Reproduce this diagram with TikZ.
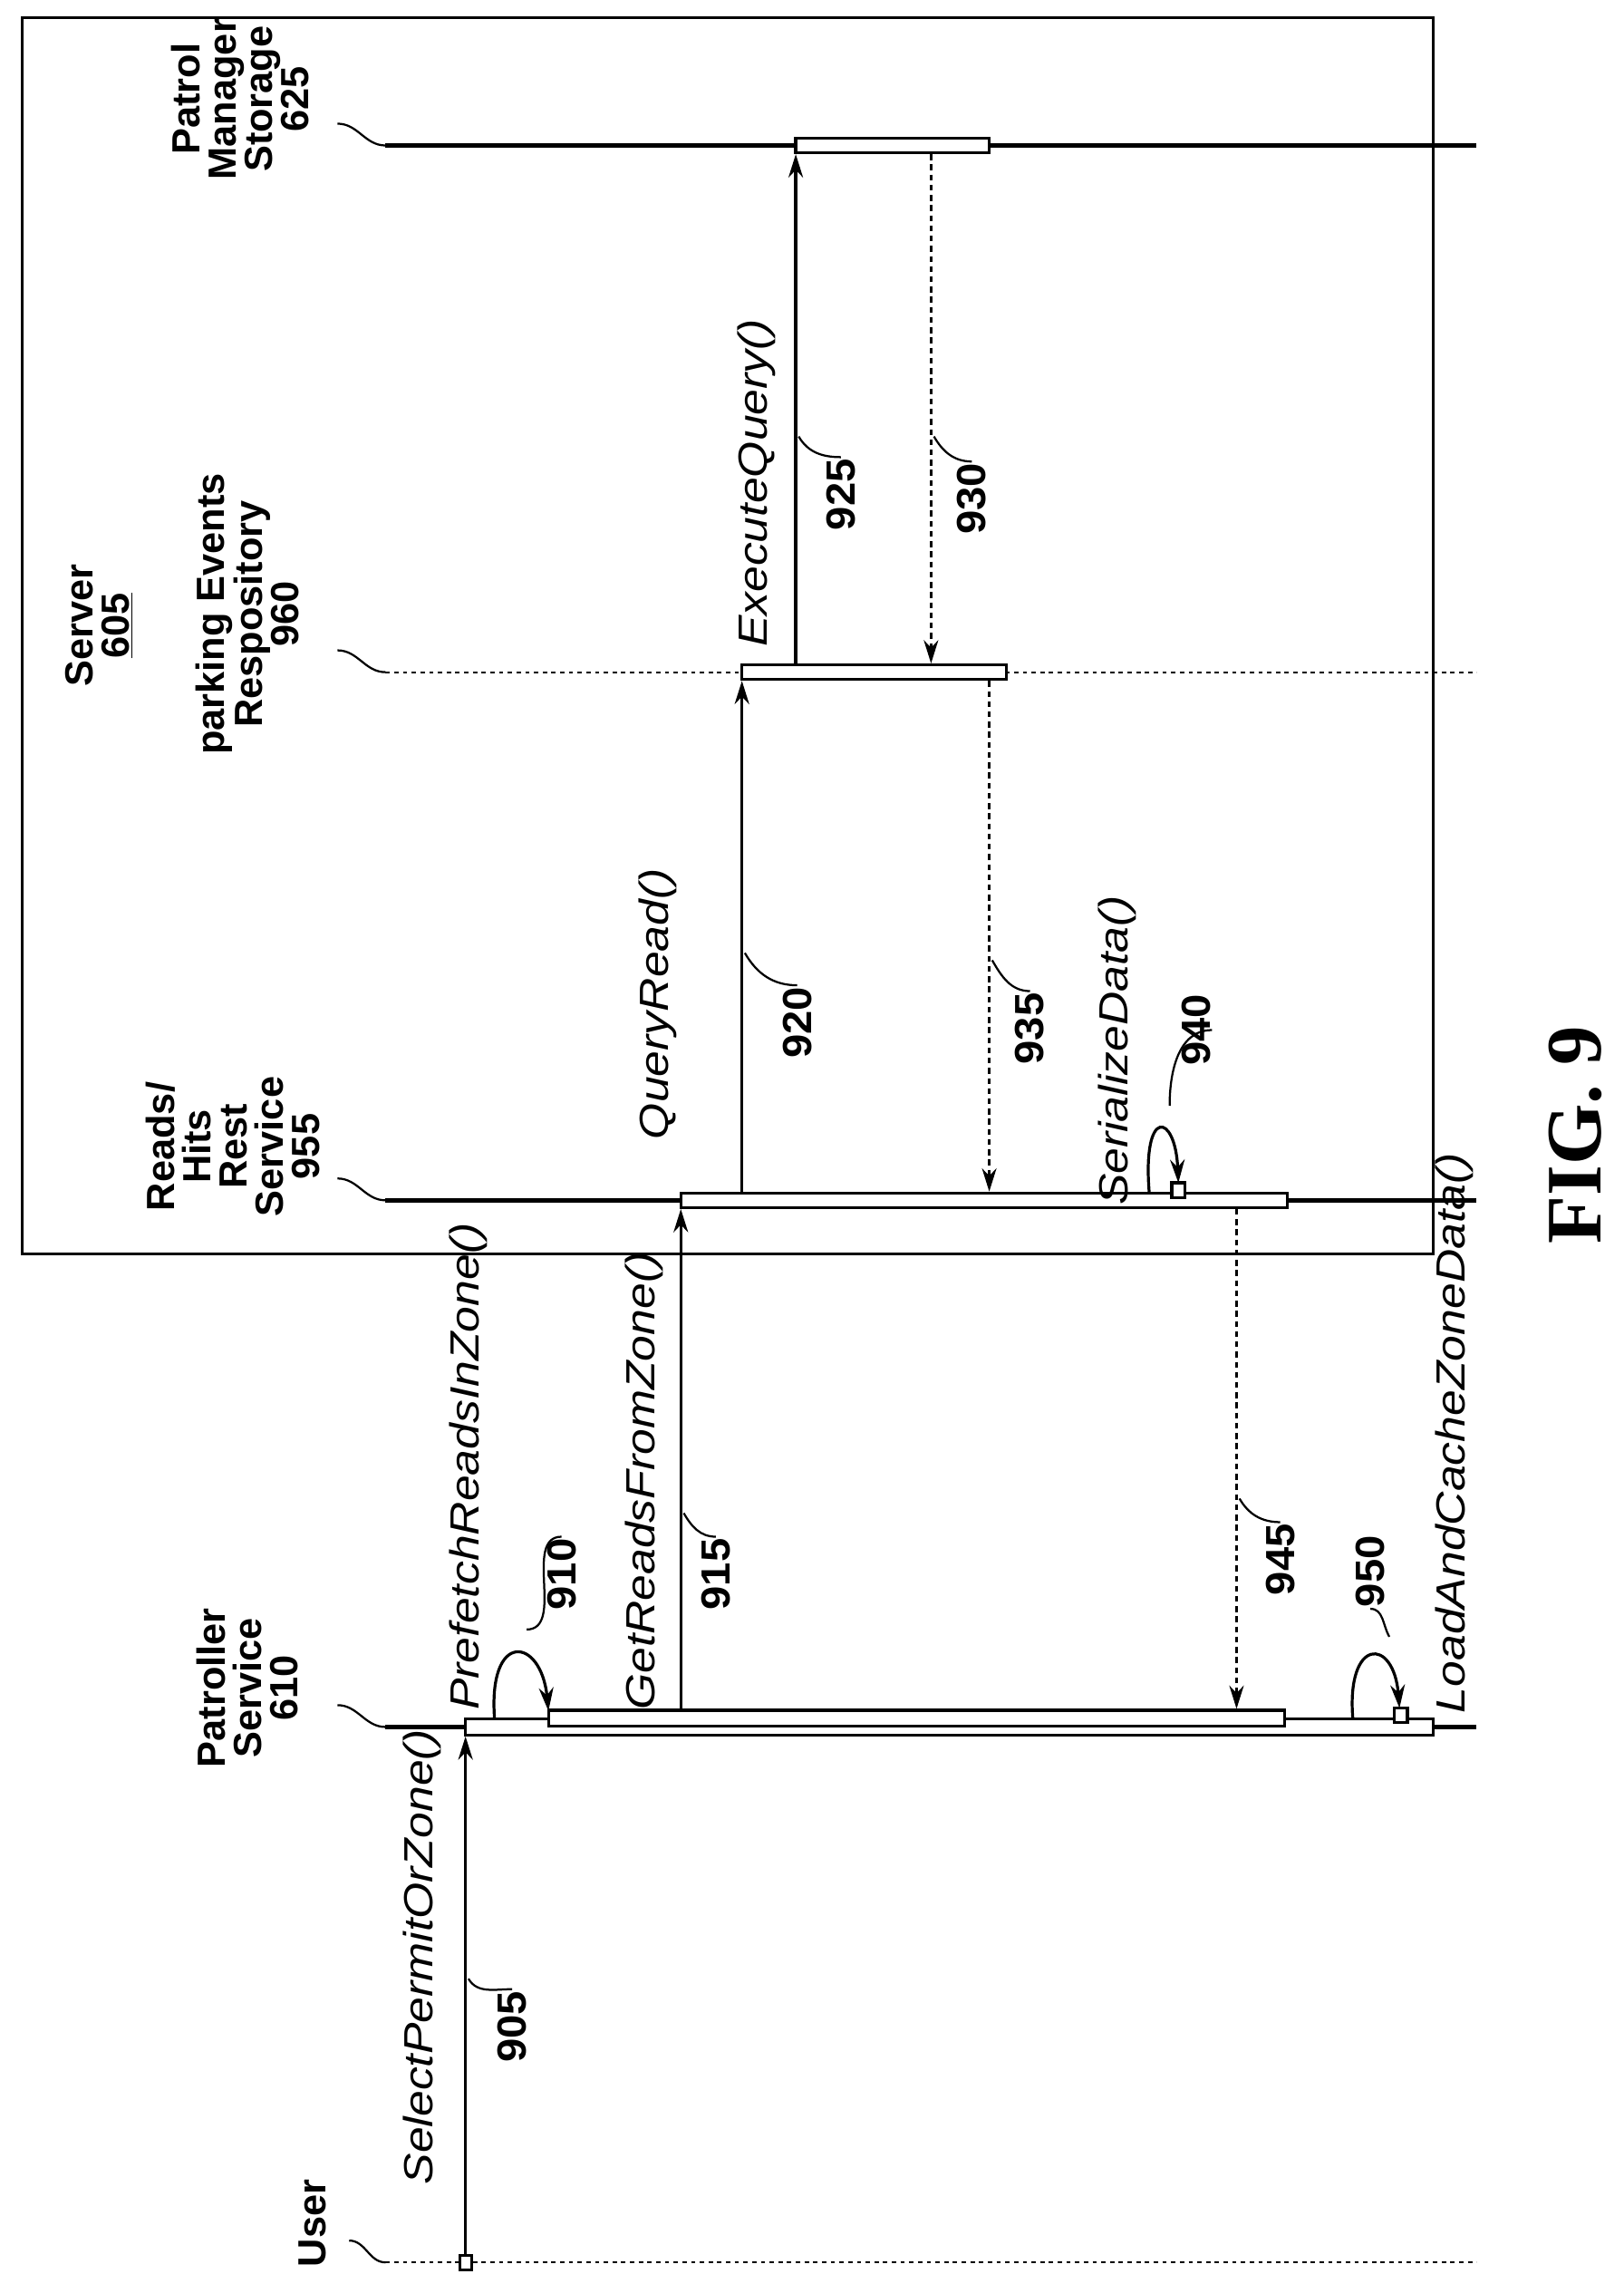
\documentclass[tikz,border=0pt]{standalone}
\usepackage{fontspec}
\setmainfont{Liberation Sans}
\newfontfamily\figfont{Liberation Serif}
\usetikzlibrary{arrows.meta,positioning}
\tikzstyle{lbl}=[rotate=90, align=center, font=\fontsize{27}{25}\selectfont\bfseries, inner sep=0pt]
\tikzstyle{num}=[rotate=90, xscale=1.05, font=\fontsize{28}{28}\selectfont\bfseries, inner sep=1pt]
\tikzstyle{call}=[rotate=90, xscale=1.15, font=\fontsize{28}{28}\selectfont\itshape, inner sep=1pt]
\tikzstyle{bar}=[rectangle, draw, line width=2pt, fill=white, inner sep=0pt, minimum height=10pt]
\tikzstyle{life}=[line width=3pt]
\tikzstyle{msg}=[line width=2pt, -{Stealth[length=16pt,width=10pt]}]
\tikzstyle{ret}=[line width=1.5pt, dashed, dash pattern=on 4pt off 3pt, -{Stealth[length=16pt,width=10pt]}]
\tikzstyle{lead}=[line width=1.4pt]

\begin{document}
\begin{tikzpicture}[x=1pt, y=-1pt]
\useasboundingbox (0,0) rectangle (1116,1563);

% server frame
\draw[line width=1.8pt] (15,12) rectangle (985,862);
\node[lbl] (srv) at (68,430) {Server\\\underline{605}};

% lifelines
\draw[life] (265,100) -- (1015,100);
\draw[line width=1.2pt, dashed] (265,462) -- (1015,462);
\draw[life] (265,825) -- (1015,825);
\draw[life] (265,1187) -- (1015,1187);
\draw[line width=1.2pt, dashed] (265,1555) -- (1015,1555);

\node[lbl] (lStorage) at (165,68) {Patrol\\Manager\\Storage\\625};
\node[lbl] (lRepo) at (170,422) {parking Events\\Respository\\960};
\node[lbl] (lRest) at (160,788) {Reads/\\Hits\\Rest\\Service\\955};
\node[lbl] (lPatrol) at (170,1160) {Patroller\\Service\\610};
\node[lbl] (lUser) at (215,1528) {User};
\draw[lead] (232,85) to[out=0,in=180] (265,100);
\draw[lead] (232,447) to[out=0,in=180] (265,462);
\draw[lead] (232,810) to[out=0,in=180] (265,825);
\draw[lead] (232,1172) to[out=0,in=180] (265,1187);
\draw[lead] (240,1540) to[out=0,in=180] (265,1555);

% activation bars
\node[bar, minimum width=133pt] (bSto) at (613.5,100) {};
\node[bar, minimum width=182pt] (bRepo) at (601,462) {};
\node[bar, minimum width=417pt] (bRest) at (676.5,825) {};
\node[bar, minimum width=665pt, minimum height=11pt] (bPat) at (652.5,1187) {};
\node[bar, minimum width=506pt, minimum height=11pt] (bPat2) at (630,1181) {};
\node[bar, minimum width=8pt, minimum height=10pt] (sq1) at (320,1555) {};
\node[bar, minimum width=9pt, minimum height=10pt] (sq940) at (810,818) {};
\node[bar, minimum width=9pt, minimum height=10pt] (sq950) at (963,1179) {};

\coordinate (x905) at (320,0);
\coordinate (x915) at (468,0);
\coordinate (x920) at (510,0);
\coordinate (x925) at (547,0);
\coordinate (x930) at (640,0);
\coordinate (x935) at (680,0);
\coordinate (x945) at (850,0);

% messages
\draw[msg] (sq1.north) -- (x905 |- bPat.south);
\draw[msg] (x915 |- bPat2.north) -- (x915 |- bRest.south);
\draw[msg] (x920 |- bRest.north) -- (x920 |- bRepo.south);
\draw[msg] (x925 |- bRepo.north) -- (x925 |- bSto.south);
\draw[ret] (x930 |- bSto.south) -- (x930 |- bRepo.north);
\draw[ret] (x935 |- bRepo.south) -- (x935 |- bRest.north);
\draw[ret] (x945 |- bRest.south) -- (x945 |- bPat2.north);

% self calls
\draw[msg] (340,1182) .. controls (335,1120) and (372,1125) .. (377,1176);
\draw[msg] (790,820) .. controls (785,760) and (808,765) .. (810,813);
\draw[msg] (930,1182) .. controls (925,1125) and (958,1125) .. (962,1174);

% call names
\node[call] (c905) at (290,1345) {SelectPermitOrZone()};
\node[call] (c910) at (322,1008) {PrefetchReadsInZone()};
\node[call] (c915) at (443,1018) {GetReadsFromZone()};
\node[call] (c920) at (452,690) {QueryRead()};
\node[call] (c925) at (520,332) {ExecuteQuery()};
\node[call] (c940) at (768,722) {SerializeData()};
\node[call] (c950) at (1000,985) {LoadAndCacheZoneData()};

% reference numbers
\node[num] (n905) at (352,1393) {905};
\node[num] (n910) at (386,1082) {910};
\node[num] (n915) at (492,1082) {915};
\node[num] (n920) at (548,703) {920};
\node[num] (n925) at (578,340) {925};
\node[num] (n930) at (668,343) {930};
\node[num] (n935) at (708,707) {935};
\node[num] (n940) at (822,708) {940};
\node[num] (n945) at (880,1072) {945};
\node[num] (n950) at (942,1080) {950};
\draw[lead] (n905.east) to[out=180,in=-60] (322,1360);
\draw[lead] (n910.east) to[out=180,in=0] (362,1120);
\draw[lead] (n915.east) to[out=180,in=-60] (470,1040);
\draw[lead] (n920.east) to[out=180,in=-60] (512,655);
\draw[lead] (n925.east) to[out=180,in=-60] (549,300);
\draw[lead] (n930.east) to[out=180,in=-60] (642,300);
\draw[lead] (n935.east) to[out=180,in=-60] (682,660);
\draw[lead] (n940.south) to[out=180,in=90] (804,760);
\draw[lead] (n945.east) to[out=180,in=-60] (852,1030);
\draw[lead] (n950.west) to[out=0,in=120] (955,1125);

\node[rotate=90, font=\fontsize{54}{54}\selectfont\bfseries\figfont] (fig) at (1083,780) {FIG. 9};
\end{tikzpicture}
\end{document}
